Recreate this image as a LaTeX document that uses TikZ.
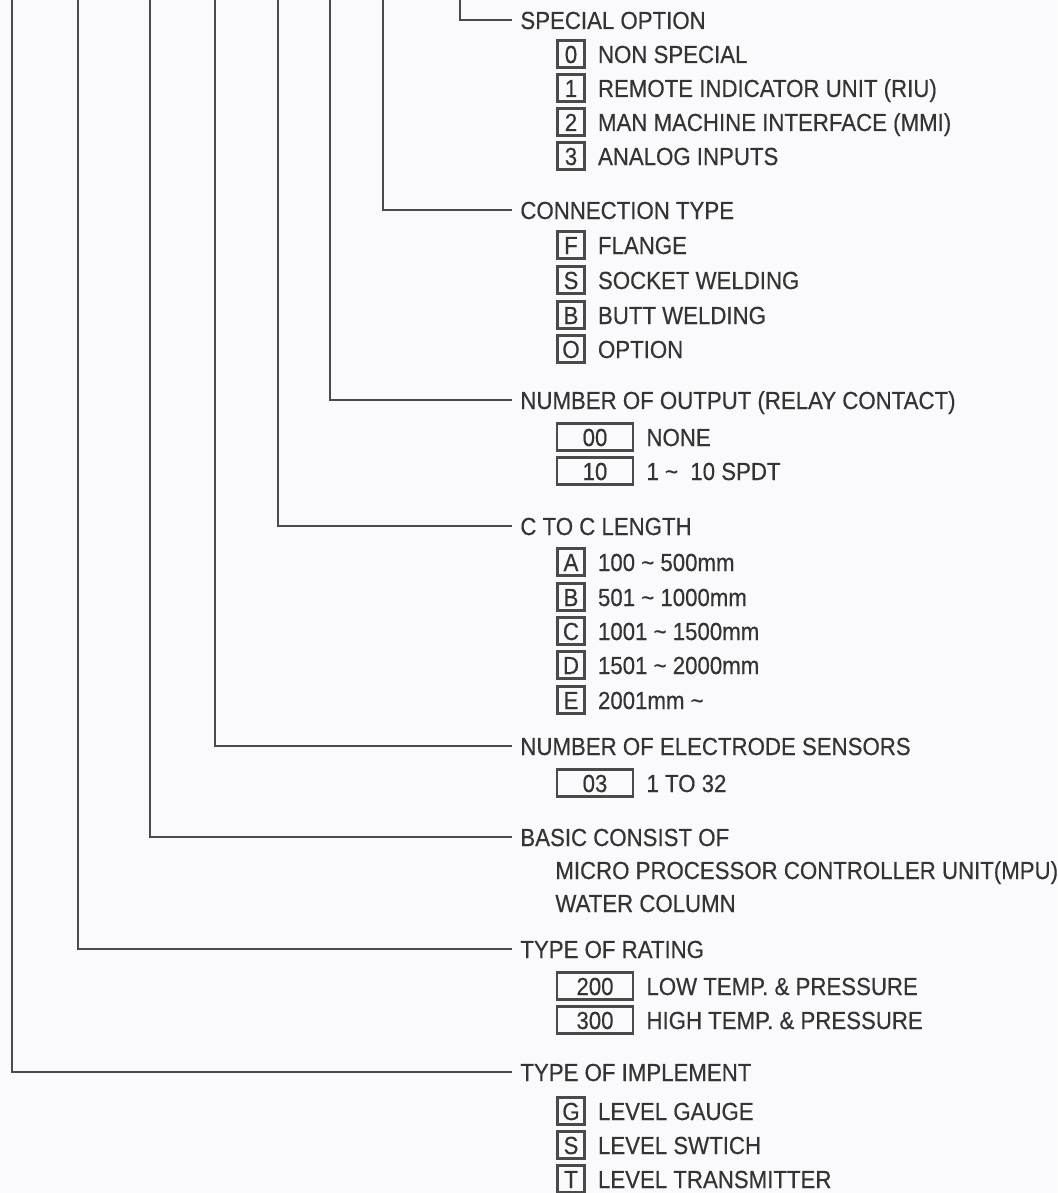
\documentclass[tikz,border=0pt]{standalone}
\usepackage{fontspec}
\setmainfont[FakeStretch=0.9,FakeBold=0.4]{Liberation Sans}
\usepackage{xcolor}
\usepackage{tikz}
\usetikzlibrary{positioning}
\definecolor{sheetInk}{HTML}{343434}
\definecolor{sheetLine}{HTML}{4A4A4A}
\definecolor{sheetPaper}{HTML}{FAFAFC}
\newcommand{\sheetFont}{\fontsize{12.35pt}{14pt}\selectfont}
\tikzset{
  heading/.style={
    anchor=west,
    inner xsep=4pt,
    inner ysep=0pt,
    text height=9pt,
    text depth=0pt,
    text=sheetInk,
    font=\sheetFont
  },
  optText/.style={
    inner sep=0pt,
    text height=9pt,
    text depth=0pt,
    text=sheetInk,
    font=\sheetFont
  },
  codeBox/.style={
    rectangle,
    draw=sheetLine,
    line width=1.1pt,
    inner sep=0pt,
    minimum width=13.5pt,
    minimum height=13.5pt,
    text height=9pt,
    text depth=0pt,
    text=sheetInk,
    font=\sheetFont
  },
  codeBoxWide/.style={
    codeBox,
    minimum width=38pt
  },
  leader/.style={
    line width=1.3pt,
    draw=sheetLine
  }
}

\begin{document}
\begin{tikzpicture}[x=0.5pt,y=-0.5pt,node distance=6pt]
  \fill[sheetPaper] (0,0) rectangle (1057,1193);
  \useasboundingbox (0,0) rectangle (1057,1193);
  % headings
  \node[heading] (special) at (512,20) {SPECIAL OPTION};
  \node[heading] (connection) at (512,210) {CONNECTION TYPE};
  \node[heading] (output) at (512,400) {NUMBER OF OUTPUT (RELAY CONTACT)};
  \node[heading] (length) at (512,526) {C TO C LENGTH};
  \node[heading] (sensors) at (512,746) {NUMBER OF ELECTRODE SENSORS};
  \node[heading] (basic) at (512,837) {BASIC CONSIST OF};
  \node[heading] (rating) at (512,949) {TYPE OF RATING};
  \node[heading] (implement) at (512,1072) {TYPE OF IMPLEMENT};
  % special option
  \node[codeBox] (so0) at (571,54) {0};
  \node[optText,right=of so0] (so0t) {NON SPECIAL};
  \node[codeBox] (so1) at (571,88) {1};
  \node[optText,right=of so1] (so1t) {REMOTE INDICATOR UNIT (RIU)};
  \node[codeBox] (so2) at (571,122) {2};
  \node[optText,right=of so2] (so2t) {MAN MACHINE INTERFACE (MMI)};
  \node[codeBox] (so3) at (571,156) {3};
  \node[optText,right=of so3] (so3t) {ANALOG INPUTS};
  % connection type
  \node[codeBox] (ctF) at (571,245) {F};
  \node[optText,right=of ctF] (ctFt) {FLANGE};
  \node[codeBox] (ctS) at (571,280) {S};
  \node[optText,right=of ctS] (ctSt) {SOCKET WELDING};
  \node[codeBox] (ctB) at (571,315) {B};
  \node[optText,right=of ctB] (ctBt) {BUTT WELDING};
  \node[codeBox] (ctO) at (571,349) {O};
  \node[optText,right=of ctO] (ctOt) {OPTION};
  % number of output
  \node[codeBoxWide] (no00) at (595,437) {00};
  \node[optText,right=of no00] (no00t) {NONE};
  \node[codeBoxWide] (no10) at (595,471) {10};
  \node[optText,right=of no10] (no10t) {1 \textasciitilde\ \ 10 SPDT};
  % c to c length
  \node[codeBox] (lnA) at (571,562) {A};
  \node[optText,right=of lnA] (lnAt) {100 \textasciitilde\ 500mm};
  \node[codeBox] (lnB) at (571,597) {B};
  \node[optText,right=of lnB] (lnBt) {501 \textasciitilde\ 1000mm};
  \node[codeBox] (lnC) at (571,631) {C};
  \node[optText,right=of lnC] (lnCt) {1001 \textasciitilde\ 1500mm};
  \node[codeBox] (lnD) at (571,665) {D};
  \node[optText,right=of lnD] (lnDt) {1501 \textasciitilde\ 2000mm};
  \node[codeBox] (lnE) at (571,700) {E};
  \node[optText,right=of lnE] (lnEt) {2001mm \textasciitilde};
  % electrode sensors
  \node[codeBoxWide] (es03) at (595,783) {03};
  \node[optText,right=of es03] (es03t) {1 TO 32};
  % basic consist
  \node[optText,anchor=west] (mpu) at (555,870) {MICRO PROCESSOR CONTROLLER UNIT(MPU)};
  \node[optText,anchor=west] (column) at (555,903) {WATER COLUMN};
  % type of rating
  \node[codeBoxWide] (tr200) at (595,986) {200};
  \node[optText,right=of tr200] (tr200t) {LOW TEMP. \& PRESSURE};
  \node[codeBoxWide] (tr300) at (595,1020) {300};
  \node[optText,right=of tr300] (tr300t) {HIGH TEMP. \& PRESSURE};
  % type of implement
  \node[codeBox] (tiG) at (571,1111) {G};
  \node[optText,right=of tiG] (tiGt) {LEVEL GAUGE};
  \node[codeBox] (tiS) at (571,1145) {S};
  \node[optText,right=of tiS] (tiSt) {LEVEL SWTICH};
  \node[codeBox] (tiT) at (571,1179) {T};
  \node[optText,right=of tiT] (tiTt) {LEVEL TRANSMITTER};
  % leaders from the top edge
  \coordinate (specialTop) at (460,-4);
  \coordinate (connectionTop) at (383,-4);
  \coordinate (outputTop) at (330,-4);
  \coordinate (lengthTop) at (278,-4);
  \coordinate (sensorsTop) at (215,-4);
  \coordinate (basicTop) at (150,-4);
  \coordinate (ratingTop) at (78,-4);
  \coordinate (implementTop) at (12,-4);
  \draw[leader] (specialTop) |- (special);
  \draw[leader] (connectionTop) |- (connection);
  \draw[leader] (outputTop) |- (output);
  \draw[leader] (lengthTop) |- (length);
  \draw[leader] (sensorsTop) |- (sensors);
  \draw[leader] (basicTop) |- (basic);
  \draw[leader] (ratingTop) |- (rating);
  \draw[leader] (implementTop) |- (implement);
\end{tikzpicture}
\end{document}
